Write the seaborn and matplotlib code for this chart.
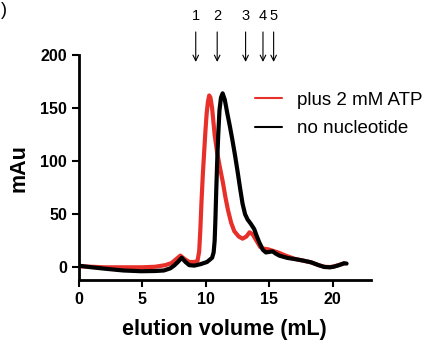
import numpy as np
import pandas as pd
import seaborn as sns
import matplotlib.pyplot as plt
from matplotlib.lines import Line2D

# elution traces
atp_vol = [0, 1, 2, 3, 4, 5, 6, 6.8, 7.3, 7.7, 8.0, 8.3, 8.7, 9.1, 9.35, 9.48, 9.57,
           9.66, 9.77, 9.87, 9.97, 10.07, 10.17, 10.27, 10.37, 10.5, 10.7, 10.9, 11.1,
           11.35, 11.55, 11.75, 12.0, 12.25, 12.6, 12.9, 13.2, 13.45, 13.7, 14.0, 14.3,
           14.6, 14.9, 15.3, 15.7, 16.3, 17.0, 17.6, 18.3, 18.9, 19.35, 19.8, 20.1, 20.5, 20.9]
atp_mau = [1, 0.5, 0, 0, 0, 0, 0.5, 2, 4, 8, 11, 8, 5, 5, 6, 15, 35,
           61, 88, 108, 128, 145, 156, 162, 160, 150, 125, 108, 95,
           80, 66, 54, 42, 34, 29, 27, 29, 33, 31, 25, 19,
           17.5, 17, 15.5, 14, 11, 8, 6.5, 4.7, 2, 0.5, 0.2, 0.8, 2.2, 3.6]

none_vol = [0, 1, 2.2, 3.5, 4.9, 6, 6.7, 7.2, 7.5, 7.8, 8.1, 8.4, 8.7, 9.1, 9.6, 10.1,
            10.5, 10.62, 10.7, 10.76, 10.82, 10.9, 10.98, 11.08, 11.2, 11.33, 11.5, 11.7,
            11.9, 12.1, 12.3, 12.5, 12.7, 12.9, 13.1, 13.3, 13.55, 13.82, 14.0, 14.22,
            14.5, 14.74, 15.0, 15.27, 15.5, 15.8, 16.45, 17.0, 17.6, 18.3, 18.9, 19.35,
            19.8, 20.1, 20.5, 20.9, 21.1]
none_mau = [1.5, 0, -1.5, -3, -3.7, -3.5, -3, -1, 1.6, 5, 9, 5, 2, 1.6, 3, 5,
            9, 14, 25, 45, 70, 100, 124, 148, 160, 164, 158, 145,
            133, 120, 106, 91, 75, 60, 50, 45, 41, 36, 30, 23.5,
            16.5, 14, 14.5, 15, 13, 11, 8.8, 7.8, 6.5, 4.7, 2, 0.3,
            0, 0.6, 2, 3.8, 3.5]

labels = ['plus 2 mM ATP', 'no nucleotide']
colors = ['#e8302a', 'black']

# fraction markers
frac_labels = ['1', '2', '3', '4', '5']
frac_vol = [9.21, 10.9, 13.14, 14.51, 15.35]

df = pd.concat([
    pd.DataFrame({'vol': atp_vol, 'mAu': atp_mau, 'sample': labels[0]}),
    pd.DataFrame({'vol': none_vol, 'mAu': none_mau, 'sample': labels[1]}),
])

sns.set_style('ticks')
plt.rcParams['font.family'] = ['Liberation Sans', 'DejaVu Sans']
for k in ['text.color', 'axes.labelcolor', 'xtick.color', 'ytick.color', 'axes.edgecolor']:
    plt.rcParams[k] = 'black'

fig = plt.figure(figsize=(4.29, 3.47), dpi=100)
ax = fig.add_axes([0.184, 0.193, 0.680, 0.648])

sns.lineplot(data=df, x='vol', y='mAu', hue='sample', palette=dict(zip(labels, colors)),
             estimator=None, sort=False, lw=3, ax=ax, legend=False)

ax.set_xlim(0, 23)
ax.set_ylim(-12, 200)
ax.set_xticks([0, 5, 10, 15, 20])
ax.set_yticks([0, 50, 100, 150, 200])
sns.despine(ax=ax)
for s in ['left', 'bottom']:
    ax.spines[s].set_linewidth(2)
ax.tick_params(width=1.5, length=5, labelsize=11.5)
for t in ax.get_xticklabels() + ax.get_yticklabels():
    t.set_fontweight('bold')

ax.set_xlabel('elution volume (mL)', fontsize=15.5, fontweight='bold', labelpad=9)
ax.set_ylabel('mAu', fontsize=15.5, fontweight='bold', labelpad=8)

for lab, v in zip(frac_labels, frac_vol):
    ax.annotate('', xy=(v, 191), xytext=(v, 224.5),
                arrowprops=dict(arrowstyle='->', lw=0.8, color='black'),
                annotation_clip=False)
    ax.text(v, 237, lab, ha='center', va='center', fontsize=10.5, clip_on=False)

handles = [Line2D([], [], color=c, lw=1.5) for c in colors]
ax.legend(handles, labels, loc='upper left', bbox_to_anchor=(0.605, 0.838),
          frameon=False, fontsize=13.5, handlelength=1.4, handletextpad=0.8,
          labelspacing=0.6, borderpad=0, borderaxespad=0)

fig.text(0.002, 0.995, ')', ha='left', va='top', fontsize=13)

fig.savefig('out.png', dpi=100)
